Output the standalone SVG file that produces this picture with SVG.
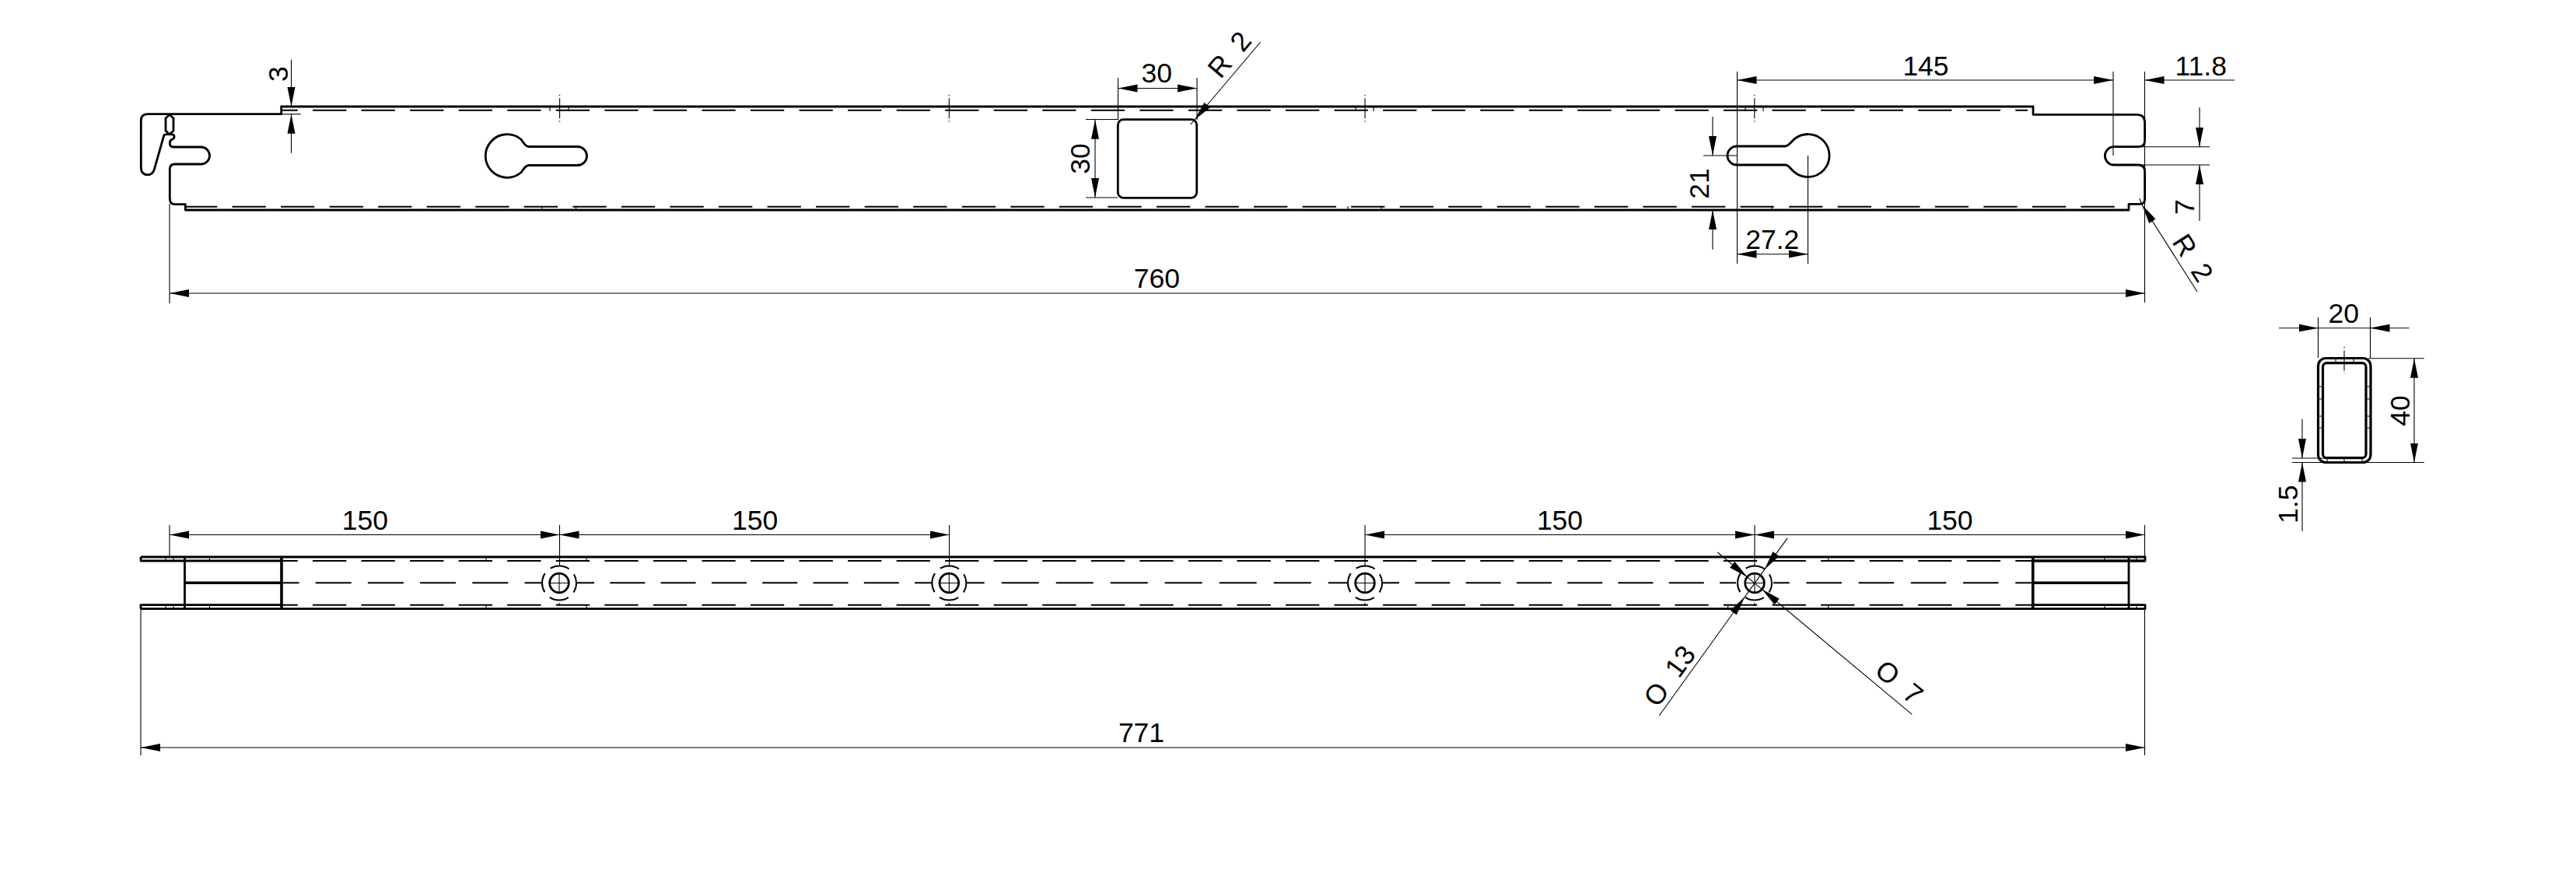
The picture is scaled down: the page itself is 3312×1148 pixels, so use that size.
<svg xmlns="http://www.w3.org/2000/svg" width="3312" height="1148" viewBox="0 0 3312 1148">
<defs>
<marker id="arr" markerUnits="userSpaceOnUse" markerWidth="27" markerHeight="12" refX="25" refY="5.5" orient="auto-start-reverse"><path d="M0 0.5L25 5.5L0 10.5Z" fill="#000"/></marker>
</defs>
<style>
.bg{fill:#fff}
.o{fill:none;stroke:#000;stroke-width:2.8;stroke-linejoin:round}
.s{fill:none;stroke:#000;stroke-width:3.2}
.h{fill:none;stroke:#000;stroke-width:3.6}
.d{fill:none;stroke:#000;stroke-width:2}
.top{stroke-dasharray:43.3 19.25;stroke-dashoffset:22.55}
.thin{fill:none;stroke:#000;stroke-width:1.1}
.c{fill:none;stroke:#000;stroke-width:1.1;stroke-dasharray:1.5 3 26 3 1.5}
.dim{fill:none;stroke:#000;stroke-width:1.1}
.both{marker-start:url(#arr);marker-end:url(#arr)}
.end{marker-end:url(#arr)}
text{font-family:"Liberation Sans",Arial,sans-serif;font-size:35.5px;fill:#000;text-anchor:middle}
.sp{word-spacing:9px}
</style>
<rect class="bg" width="3312" height="1148"/>

<g id="top-view">
<path class="o" d="M238.3 270V262.7H225Q218.3 262.7 218.3 255V217.5Q218.3 211 225 211H258.5A11 11 0 0 0 258.5 189H223Q218.3 189 218.3 184Q218.3 180 221 179.5Q224.5 178 224 175Q223.5 172.7 219 172.7H215Q211 172.7 210.5 175L198.3 218Q196 224.7 190 224.7Q181.3 224.7 181.3 215V155Q181.3 146.7 190 146.7H361.7V137H2614V147.3H2747Q2757.6 147.3 2757.6 157V181Q2757.6 188.7 2749 188.7H2717A11.7 11.7 0 0 0 2717 212H2749Q2757.6 212 2757.6 220V256Q2757.6 262.3 2751 262.3H2737V270Z"/>
<path class="o" d="M218 147.3L223 152V168L218 172.7L213 168V152Z"/>
<path class="o" d="M742.5 188.5H680C675 188.5 673 183 669.9 179.2A27.8 27.8 0 1 0 669.9 221.8C673 218 675 212.5 680 212.5H742.5A12 12 0 0 0 742.5 188.5Z"/>
<path class="o" d="M2233 188H2295C2300 188 2302 183 2306.9 178.9A27.5 27.5 0 1 1 2306.9 221.1C2302 217 2300 212 2295 212H2233A12 12 0 0 1 2233 188Z"/>
<rect class="o" x="1437.3" y="153.7" width="101.4" height="100.6" rx="7"/>
<line class="d top" x1="362" y1="141.7" x2="2607" y2="141.7"/>
<line class="d top" x1="239" y1="265.7" x2="2737" y2="265.7" style="stroke-dashoffset:3.05"/>
<line class="c" x1="719.6" y1="121.7" x2="719.6" y2="156.7"/>
<line class="c" x1="1220.3" y1="121.7" x2="1220.3" y2="156.7"/>
<line class="c" x1="1755" y1="121.7" x2="1755" y2="156.7"/>
<line class="c" x1="2255.8" y1="121.7" x2="2255.8" y2="156.7"/>
<path class="thin" d="M707 138V143M731 138V143M1743 138V143M1766 138V143M2244 138V143M2267 138V143M697 265V270M740.5 265V270M1733 265V270M1776 265V270M2278 265V270"/>
</g>

<g id="bottom-view">
<path class="o" d="M181 716H2758V721H2613.7M362 721H181V716"/>
<path class="o" d="M181 782.7H2758V777.7H2613.7M362 777.7H181V782.7"/>
<path class="o" d="M2613.7 721H2758M237.5 716V783M2737 716V783"/>
<path class="h" d="M362 716V783M2613.7 716V783M237.5 749.3H362M2613.7 749.3H2737"/>
<line class="d top" x1="362" y1="721" x2="2613.7" y2="721"/>
<line class="d top" x1="362" y1="777.7" x2="2613.7" y2="777.7"/>
<line class="d" x1="362" y1="749.3" x2="697" y2="749.3" stroke-dasharray="46 21.2" stroke-dashoffset="23.5"/>
<line class="d" x1="741.6" y1="749.3" x2="1198" y2="749.3" stroke-dasharray="45 20.3" stroke-dashoffset="22.6"/>
<line class="d" x1="1243" y1="749.3" x2="1733" y2="749.3" stroke-dasharray="48 22" stroke-dashoffset="25.3"/>
<line class="d" x1="1777" y1="749.3" x2="2232" y2="749.3" stroke-dasharray="45 20.3" stroke-dashoffset="23"/>
<line class="d" x1="2280" y1="749.3" x2="2613.7" y2="749.3" stroke-dasharray="45.5 21.7" stroke-dashoffset="24.8"/>
<path class="thin" d="M213 716V721M223 716V721M269.4 716V721M625 716V721M754 716V721M213 778V783M223 778V783M269.4 778V783M625 778V783M754 778V783M2706 716V721M2747 716V721M2706 778V783M2747 778V783M2221.7 778V783M2350.7 716V721M2350.7 778V783"/>
</g>

<g id="hole-1"><circle class="o" cx="719" cy="749.5" r="12.3"/><circle class="d" cx="719" cy="749.5" r="22" stroke-dasharray="25.3 9.25" stroke-dashoffset="12.65"/><path class="thin" d="M707 749.5H731M719 737V762M719 775V779"/></g>
<g id="hole-2"><circle class="o" cx="1220.3" cy="749.5" r="12.3"/><circle class="d" cx="1220.3" cy="749.5" r="22" stroke-dasharray="25.3 9.25" stroke-dashoffset="12.65"/><path class="thin" d="M1208 749.5H1232.6M1220.3 737V762M1220.3 775V779"/></g>
<g id="hole-3"><circle class="o" cx="1755" cy="749.5" r="12.3"/><circle class="d" cx="1755" cy="749.5" r="22" stroke-dasharray="25.3 9.25" stroke-dashoffset="12.65"/><path class="thin" d="M1743 749.5H1767M1755 737V762M1755 775V779"/></g>
<g id="hole-4"><circle class="o" cx="2256" cy="749.5" r="12.3"/><circle class="d" cx="2256" cy="749.5" r="22" stroke-dasharray="25.3 9.25" stroke-dashoffset="12.65"/><path class="thin" d="M2244 749.5H2268M2256 737V762M2256 775V779"/></g>

<g id="section">
<rect class="s" x="2980.5" y="460.5" width="67.5" height="134" rx="10"/>
<rect class="s" x="2986.5" y="466.7" width="55.5" height="122" rx="5"/>
<path class="thin" d="M2980 497H2987M2980 513H2987M2980 535H2987M2980 550H2987M3042 497H3049M3042 513H3049M3042 535H3049M3042 550H3049M3003 460V467M3026 460V467M2992 589V595M3014 589V595M3037 589V595"/>
<line class="c" x1="3014" y1="446" x2="3014" y2="480"/>
</g>

<g id="connectors">
<path class="dim" d="M362 146.7H386.6"/>
<line class="dim end" x1="374.5" y1="76.7" x2="374.5" y2="137"/>
<line class="dim end" x1="374.5" y1="196.7" x2="374.5" y2="146.7"/>
<path class="dim" d="M218 262V390M2757.5 92V389"/>
<line class="dim both" x1="218" y1="377" x2="2757.5" y2="377"/>
<path class="dim" d="M1437.5 100V154M1539 100V154M1396 153.5H1437M1396 254H1437"/>
<line class="dim both" x1="1437.5" y1="113.5" x2="1539" y2="113.5"/>
<line class="dim both" x1="1408" y1="153.7" x2="1408" y2="254"/>
<line class="dim end" x1="1620.7" y1="54" x2="1536" y2="154"/>
<line class="thin" x1="1536" y1="154" x2="1530.7" y2="160"/>
<path class="dim" d="M2233.5 92V339M2717 92V200M2324.5 200V339M2190 200H2233M2749 188.7H2841M2749 212H2841"/>
<line class="dim both" x1="2233.5" y1="103" x2="2717" y2="103"/>
<line class="dim end" x1="2873" y1="103" x2="2757.5" y2="103"/>
<line class="dim end" x1="2202" y1="150" x2="2202" y2="200"/>
<line class="dim end" x1="2202" y1="320.7" x2="2202" y2="270"/>
<line class="dim both" x1="2233.5" y1="326.7" x2="2324.5" y2="326.7"/>
<line class="dim end" x1="2828" y1="138" x2="2828" y2="188.7"/>
<line class="dim end" x1="2828" y1="284" x2="2828" y2="212"/>
<line class="dim end" x1="2825" y1="375" x2="2754" y2="263.3"/>
<line class="thin" x1="2754" y1="263.3" x2="2750.7" y2="255"/>
<path class="dim" d="M218 675V716M719.5 675V727M1220.5 675V727M1755 675V727M2256 675V727M2757.5 675V716M181 783V971M2757.5 783V971"/>
<line class="dim both" x1="218" y1="687.5" x2="719.5" y2="687.5"/>
<line class="dim both" x1="719.5" y1="687.5" x2="1220.5" y2="687.5"/>
<line class="dim both" x1="1755" y1="687.5" x2="2256" y2="687.5"/>
<line class="dim both" x1="2256" y1="687.5" x2="2757.5" y2="687.5"/>
<line class="dim both" x1="181" y1="961" x2="2757.5" y2="961"/>
<line class="dim end" x1="2298.3" y1="691.7" x2="2268.7" y2="732.1"/>
<line class="dim end" x1="2133.3" y1="920" x2="2243.3" y2="767.3"/>
<line class="thin" x1="2268.7" y1="732.1" x2="2243.3" y2="767.3"/>
<line class="dim end" x1="2208.3" y1="710" x2="2246.5" y2="741.8"/>
<line class="dim end" x1="2458.3" y1="918.3" x2="2265.5" y2="757.6"/>
<line class="thin" x1="2246.5" y1="741.8" x2="2265.5" y2="757.6"/>
<path class="dim" d="M2980.5 408V460M3047.5 408V460M3045 460.7H3116.7M2947 594.5H3116.7M2947 589H2990"/>
<line class="dim end" x1="2930" y1="421.7" x2="2980.5" y2="421.7"/>
<line class="dim end" x1="3097.7" y1="421.7" x2="3047.5" y2="421.7"/>
<line class="dim" x1="2980.5" y1="421.7" x2="3047.5" y2="421.7"/>
<line class="dim both" x1="3104" y1="460.7" x2="3104" y2="594.5"/>
<line class="dim end" x1="2960" y1="539" x2="2960" y2="589"/>
<line class="dim end" x1="2960" y1="683" x2="2960" y2="594.5"/>
</g>

<g id="labels">
<text transform="translate(370 95) rotate(-90)">3</text>
<text x="1487.3" y="106">30</text>
<text transform="translate(1401 204) rotate(-90)">30</text>
<text class="sp" transform="translate(1590 78) rotate(-49.7)">R 2</text>
<text x="2476" y="96.7">145</text>
<text x="2829.7" y="96.7">11.8</text>
<text transform="translate(2197.4 236) rotate(-90)">21</text>
<text x="2278.7" y="320">27.2</text>
<text transform="translate(2820.5 266) rotate(-90)">7</text>
<text class="sp" transform="translate(2809 338) rotate(57.6)">R 2</text>
<text x="1487.3" y="370">760</text>
<text x="469.4" y="681">150</text>
<text x="970.7" y="681">150</text>
<text x="2005.5" y="681">150</text>
<text x="2507" y="681">150</text>
<text x="1467.5" y="954.3">771</text>
<text class="sp" transform="translate(2156.4 876) rotate(-54)">O 13</text>
<text class="sp" transform="translate(2434 886.5) rotate(39.8)">O 7</text>
<text x="3013.3" y="415">20</text>
<text transform="translate(3098 528) rotate(-90)">40</text>
<text transform="translate(2954 648.3) rotate(-90)">1.5</text>
</g>
</svg>
